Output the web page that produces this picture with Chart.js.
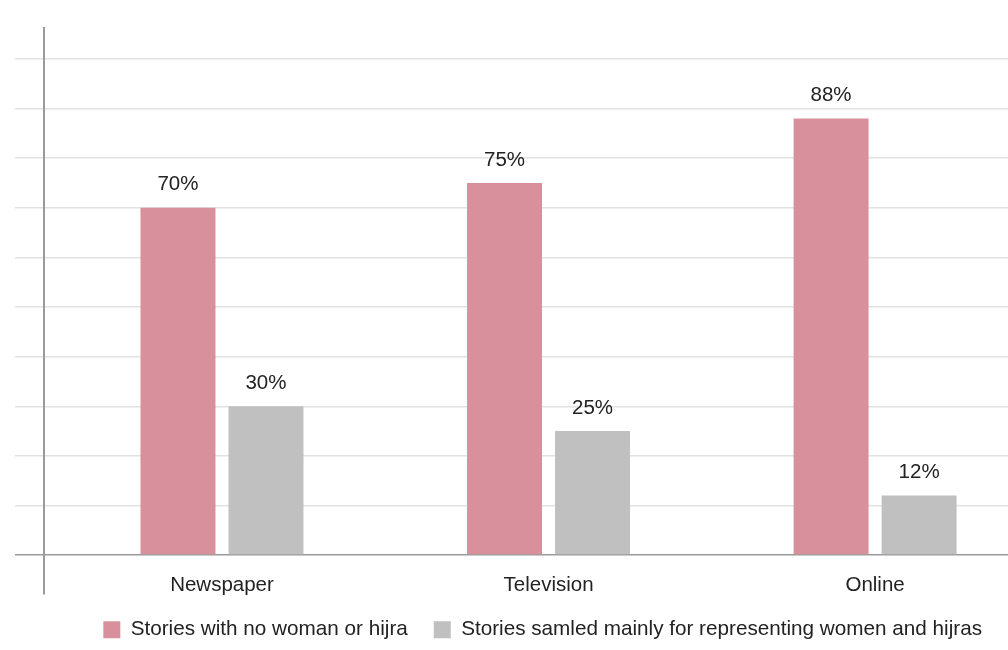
<!DOCTYPE html>
<html>
<head>
<meta charset="utf-8">
<script src="https://cdn.jsdelivr.net/npm/chart.js@4.4.0/dist/chart.umd.min.js"></script>
<style>
  html, body { margin: 0; padding: 0; background: #fff; }
  #wrap { width: 1008px; height: 650px; position: relative; overflow: hidden; }
</style>
</head>
<body>
<div id="wrap"><canvas id="canvas"></canvas></div>
<script>
// categories and series (percent of stories)
var categories = ["Newspaper", "Television", "Online"];
var noWomanValues = [70, 75, 88];
var representingValues = [30, 25, 12];
var seriesNames = ["Stories with no woman or hijra", "Stories samled mainly for representing women and hijras"];
var gridSteps = [0, 10, 20, 30, 40, 50, 60, 70, 80, 90, 100];

Chart.defaults.font.family = "'Liberation Sans', Arial, sans-serif";
Chart.defaults.color = "#222";

// percent labels above each bar
const percentLabels = {
  id: "percentLabels",
  afterDatasetsDraw(chart) {
    const ctx = chart.ctx;
    ctx.save();
    ctx.font = "20.5px 'Liberation Sans', Arial, sans-serif";
    ctx.fillStyle = "#222";
    ctx.textAlign = "center";
    ctx.textBaseline = "middle";
    chart.data.datasets.forEach((ds, di) => {
      const meta = chart.getDatasetMeta(di);
      meta.data.forEach((bar, i) => {
        ctx.fillText(ds.data[i].y + "%", bar.x, bar.y - 23);
      });
    });
    ctx.restore();
  },
};

const toPoints = (values) => values.map((v, i) => ({ x: i, y: v }));

const ctx = document.getElementById("canvas").getContext("2d");
const myChart = new Chart(ctx, {
  type: "bar",
  data: {
    datasets: [
      {
        label: seriesNames[0],
        data: toPoints(noWomanValues),
        backgroundColor: "#d8909d",
      },
      {
        label: seriesNames[1],
        data: toPoints(representingValues),
        backgroundColor: "#c0c0c0",
      },
    ],
  },
  options: {
    responsive: true,
    maintainAspectRatio: false,
    animation: false,
    categoryPercentage: 0.539,
    barPercentage: 0.852,
    layout: { padding: { left: 15, top: 28, right: 0, bottom: 0 } },
    plugins: {
      tooltip: { enabled: false },
      legend: {
        position: "bottom",
        align: "end",
        labels: {
          boxWidth: 17,
          boxHeight: 17,
          padding: 26,
          color: "#222",
          font: { size: 20.7 },
        },
      },
    },
    scales: {
      x: {
        type: "linear",
        position: { y: 0 },
        offset: false,
        min: -0.545,
        max: 2.407,
        afterBuildTicks: (scale) => {
          scale.ticks = categories.map((c, i) => ({ value: i }));
        },
        grid: { display: false, drawTicks: false, offset: false },
        border: { display: false },
        ticks: {
          padding: 18,
          color: "#222",
          font: { size: 20.5 },
          callback: (v) => categories[v],
        },
      },
      y: {
        min: -7.7,
        max: 106.25,
        afterBuildTicks: (scale) => {
          scale.ticks = gridSteps.map((v) => ({ value: v }));
        },
        ticks: { display: false },
        grid: {
          tickLength: 29,
          lineWidth: 1.5,
          color: (c) => (c.tick && c.tick.value === 0 ? "#9a9a9a" : "#e2e2e2"),
        },
        border: { display: true, color: "#9a9a9a", width: 2 },
      },
    },
  },
  plugins: [percentLabels],
});
</script>
</body>
</html>
